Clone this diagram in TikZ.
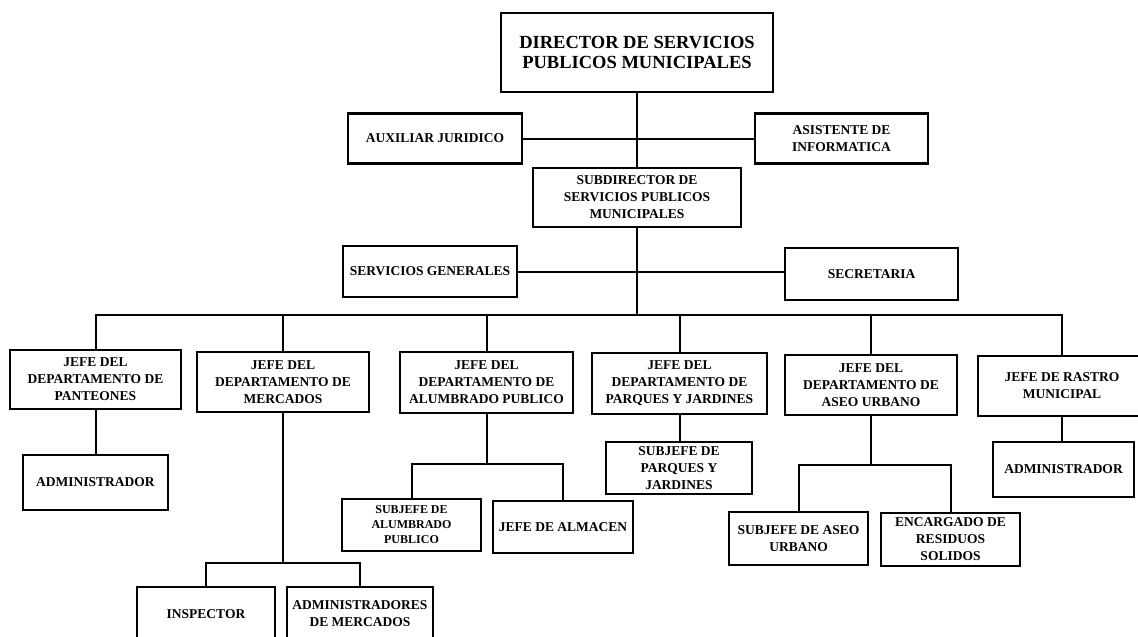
\documentclass[tikz,border=0pt]{standalone}
\usepackage{fontspec}
\setmainfont{Liberation Serif}
\usepackage{tikz}

\begin{document}
\begin{tikzpicture}[x=1pt,y=-1pt,
    box/.style={draw,line width=2.2pt,inner sep=0pt,align=center,
        font=\fontsize{13.5}{17}\selectfont\bfseries},
    wire/.style={line width=2pt}]
    \useasboundingbox (0,0) rectangle (1138,637);

    % Director and staff
    \node[box,minimum width=272pt,minimum height=79pt,
        font=\fontsize{18.5}{20.5}\selectfont\bfseries] (director) at (637,52.5)
        {DIRECTOR DE SERVICIOS\\PUBLICOS MUNICIPALES};
    \node[box,minimum width=174pt,minimum height=50pt] (auxiliar) at (435,138.5) {AUXILIAR JURIDICO};
    \node[box,minimum width=173pt,minimum height=50pt] (asistente) at (841.5,138.5) {ASISTENTE DE\\INFORMATICA};
    \node[box,minimum width=208pt,minimum height=59pt] (subdir) at (637,197.5)
        {SUBDIRECTOR DE\\SERVICIOS PUBLICOS\\MUNICIPALES};
    \node[box,minimum width=174pt,minimum height=51pt] (servgen) at (430,271.5) {SERVICIOS GENERALES};
    \node[box,minimum width=173pt,minimum height=52pt] (secretaria) at (871.5,274) {SECRETARIA};

    % Departments
    \node[box,minimum width=171pt,minimum height=59pt] (panteones) at (95.5,379.5)
        {JEFE DEL\\DEPARTAMENTO DE\\PANTEONES};
    \node[box,minimum width=172pt,minimum height=60pt] (mercados) at (283,382)
        {JEFE DEL\\DEPARTAMENTO DE\\MERCADOS};
    \node[box,minimum width=173pt,minimum height=61pt] (alumbrado) at (486.5,382.5)
        {JEFE DEL\\DEPARTAMENTO DE\\ALUMBRADO PUBLICO};
    \node[box,minimum width=175pt,minimum height=61pt] (parques) at (679.5,383.5)
        {JEFE DEL\\DEPARTAMENTO DE\\PARQUES Y JARDINES};
    \node[box,minimum width=172pt,minimum height=60pt] (aseo) at (871,385)
        {JEFE DEL\\DEPARTAMENTO DE\\ASEO URBANO};
    \node[box,minimum width=168pt,minimum height=60pt] (rastro) at (1062,386)
        {JEFE DE RASTRO\\MUNICIPAL};

    % Third level
    \node[box,minimum width=145pt,minimum height=55pt] (admpant) at (95.5,482.5) {ADMINISTRADOR};
    \node[box,minimum width=141pt,minimum height=55pt] (admrastro) at (1063.5,469.5) {ADMINISTRADOR};
    \node[box,minimum width=146pt,minimum height=52pt] (subparques) at (679,468)
        {SUBJEFE DE\\PARQUES Y\\JARDINES};
    \node[box,minimum width=139pt,minimum height=52pt,
        font=\fontsize{12}{15}\selectfont\bfseries] (subalumbrado) at (411.5,525)
        {SUBJEFE DE\\ALUMBRADO\\PUBLICO};
    \node[box,minimum width=140pt,minimum height=52pt] (almacen) at (563,527) {JEFE DE ALMACEN};
    \node[box,minimum width=139pt,minimum height=53pt] (subaseo) at (798.5,538.5)
        {SUBJEFE DE ASEO\\URBANO};
    \node[box,minimum width=139pt,minimum height=53pt] (residuos) at (950.5,539.5)
        {ENCARGADO DE\\RESIDUOS\\SOLIDOS};
    \node[box,minimum width=138pt,minimum height=54pt] (inspector) at (206,614) {INSPECTOR};
    \node[box,minimum width=146pt,minimum height=54pt] (admmercados) at (360,614)
        {ADMINISTRADORES\\DE MERCADOS};

    % Junctions
    \coordinate (bus) at (637,315);
    \coordinate (alumbar) at (486.5,464);
    \coordinate (aseobar) at (871,465);
    \coordinate (mercbar) at (283,563);

    % Main line
    \draw[wire] (director) -- (subdir);
    \draw[wire] (auxiliar) -- (asistente);
    \draw[wire] (servgen.east) -- (servgen.east -| secretaria.west);
    \draw[wire] (subdir) -- (bus);

    % Bus to departments
    \draw[wire] (panteones.north) |- (bus);
    \draw[wire] (mercados.north) |- (bus);
    \draw[wire] (alumbrado.north) |- (bus);
    \draw[wire] (parques.north) |- (bus);
    \draw[wire] (aseo.north) |- (bus);
    \draw[wire] (rastro.north) |- (bus);

    % Department staff
    \draw[wire] (panteones) -- (admpant);
    \draw[wire] (rastro.south) -- (rastro.south |- admrastro.north);
    \draw[wire] (parques.south) -- (parques.south |- subparques.north);

    \draw[wire] (alumbrado) -- (alumbar);
    \draw[wire] (subalumbrado.north) |- (alumbar) -| (almacen.north);

    \draw[wire] (aseo) -- (aseobar);
    \draw[wire] (subaseo.north) |- (aseobar) -| (residuos.north);

    \draw[wire] (mercados) -- (mercbar);
    \draw[wire] (inspector.north) |- (mercbar) -| (admmercados.north);
\end{tikzpicture}
\end{document}
